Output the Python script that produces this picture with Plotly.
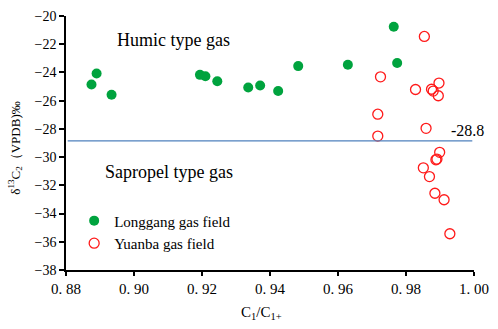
import plotly.graph_objects as go

# Longgang gas field (filled green)
longgang_x = [0.8875, 0.8890, 0.8934, 0.9194, 0.9210, 0.9245, 0.9336, 0.9371,
              0.9424, 0.9483, 0.9629, 0.9764, 0.9774]
longgang_y = [-24.86, -24.08, -25.58, -24.17, -24.27, -24.63, -25.07, -24.93,
              -25.32, -23.55, -23.46, -20.76, -23.33]

# Yuanba gas field (open red)
yuanba_x = [0.9854, 0.9725, 0.9828, 0.9875, 0.9880, 0.9897, 0.9895, 0.9717,
            0.9859, 0.9717, 0.9899, 0.9888, 0.9891, 0.9851, 0.9869, 0.9885,
            0.9912, 0.9929]
yuanba_y = [-21.45, -24.31, -25.21, -25.19, -25.32, -24.75, -25.65, -26.96,
            -27.96, -28.51, -29.66, -30.19, -30.14, -30.76, -31.38, -32.56,
            -33.02, -35.43]

threshold = -28.85
threshold_label = "-28.8"

x_ticks = [0.88, 0.90, 0.92, 0.94, 0.96, 0.98, 1.00]
x_ticktext = ["0. 88", "0. 90", "0. 92", "0. 94", "0. 96", "0. 98", "1. 00"]
y_ticks = [-20, -22, -24, -26, -28, -30, -32, -34, -36, -38]

FONT = "Liberation Serif, Times New Roman, serif"

fig = go.Figure()
fig.add_trace(go.Scatter(
    x=longgang_x, y=longgang_y, mode="markers", name="Longgang gas field",
    marker=dict(symbol="circle", size=10, color="#00a33e"),
))
fig.add_trace(go.Scatter(
    x=yuanba_x, y=yuanba_y, mode="markers", name="Yuanba gas field",
    marker=dict(symbol="circle-open", size=10, color="#ff1a1a", line=dict(width=1.3)),
))

fig.add_shape(type="line", xref="x", yref="y", x0=0.8805, x1=0.9995,
              y0=threshold, y1=threshold, line=dict(color="#4f81bd", width=1.2))

fig.add_annotation(x=0.9925, y=-28.1, xref="x", yref="y", text=threshold_label,
                   showarrow=False, xanchor="left", yanchor="middle",
                   font=dict(family=FONT, size=16, color="black"))
fig.add_annotation(x=0.9116, y=-21.67, xref="x", yref="y", text="Humic type gas",
                   showarrow=False, xanchor="center", yanchor="middle",
                   font=dict(family=FONT, size=18, color="black"))
fig.add_annotation(x=0.9103, y=-31.06, xref="x", yref="y", text="Sapropel type gas",
                   showarrow=False, xanchor="center", yanchor="middle",
                   font=dict(family=FONT, size=18, color="black"))

# axis titles
fig.add_annotation(x=-0.124, y=0.479, xref="paper", yref="paper",
                   text="δ<sup>13</sup>C<sub>2</sub>（VPDB)‰", textangle=-90,
                   showarrow=False, xanchor="center", yanchor="middle",
                   font=dict(family=FONT, size=13, color="black"))
fig.add_annotation(x=0.48, y=-0.169, xref="paper", yref="paper",
                   text="C<sub>1</sub>/C<sub>1+</sub>",
                   showarrow=False, xanchor="center", yanchor="middle",
                   font=dict(family=FONT, size=15, color="black"))

fig.update_layout(
    width=498, height=329,
    margin=dict(l=66, r=22, t=9, b=59),
    paper_bgcolor="white", plot_bgcolor="white",
    font=dict(family=FONT, size=14, color="black"),
    showlegend=True,
    legend=dict(x=0.02, y=0.15, xanchor="left", yanchor="middle",
                bgcolor="rgba(0,0,0,0)", itemwidth=30,
                font=dict(family=FONT, size=15, color="black"),
                tracegroupgap=0),
    xaxis=dict(range=[0.88, 1.00], tickvals=x_ticks, ticktext=x_ticktext,
               showgrid=False, zeroline=False, showline=True, linecolor="black",
               linewidth=1.5, ticks="outside", ticklen=4, tickwidth=1.5,
               tickcolor="black", tickfont=dict(family=FONT, size=15)),
    yaxis=dict(range=[-38, -20], tickvals=y_ticks,
               showgrid=False, zeroline=False, showline=True, linecolor="black",
               linewidth=1.5, ticks="outside", ticklen=5, tickwidth=1.5,
               tickcolor="black", tickfont=dict(family=FONT, size=14)),
)

fig.write_html("out.html", config={"displayModeBar": False},
               post_script="document.body.style.margin='0';document.body.style.overflow='hidden';")
